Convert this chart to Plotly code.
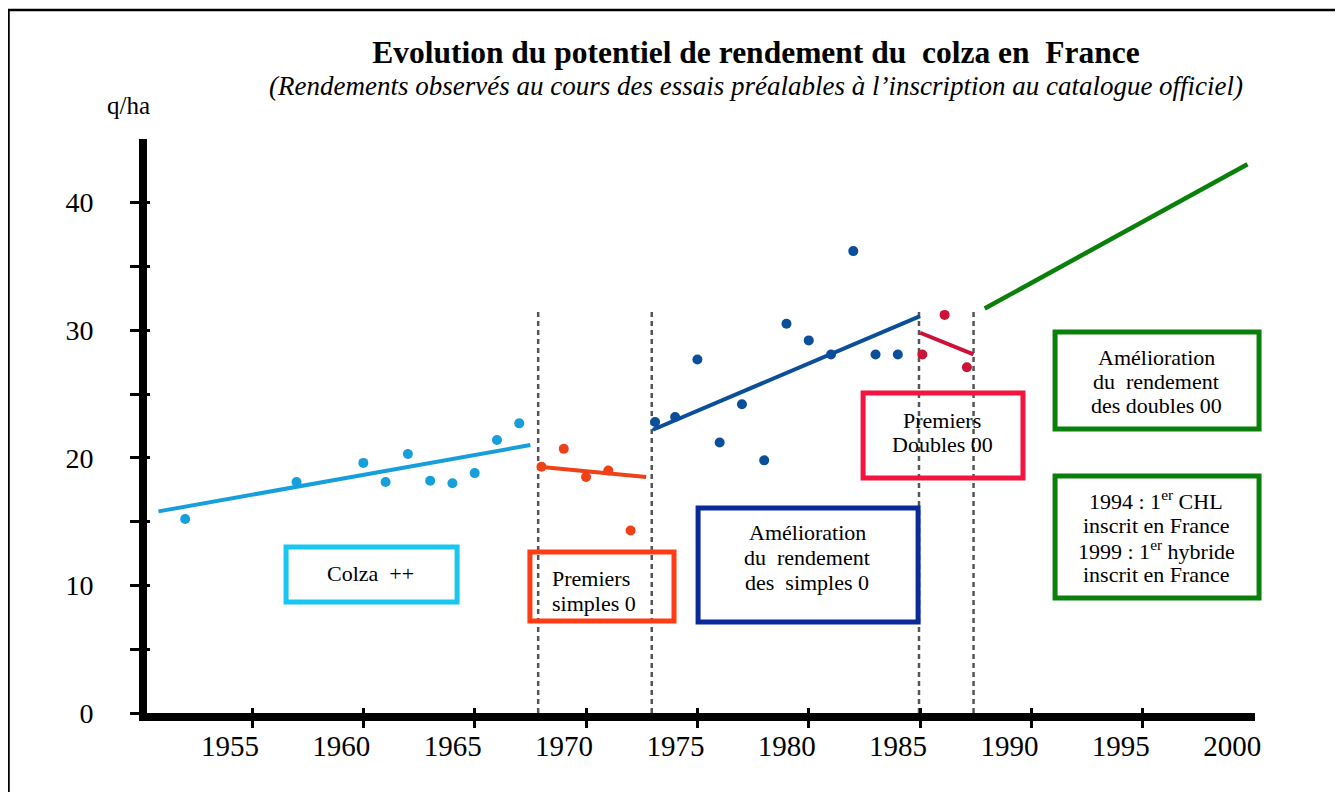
import plotly.graph_objects as go

# ---------------- data ----------------
years_colza = [1952, 1957, 1960, 1961, 1962, 1963, 1964, 1965, 1966, 1967]
yield_colza = [15.2, 18.1, 19.6, 18.1, 20.3, 18.2, 18.0, 18.8, 21.4, 22.7]
trend_colza_x = [1950.8, 1967.5]
trend_colza_y = [15.8, 21.0]

years_s0 = [1968, 1969, 1970, 1971, 1972]
yield_s0 = [19.3, 20.7, 18.5, 19.0, 14.3]
trend_s0_x = [1967.9, 1972.7]
trend_s0_y = [19.3, 18.5]

years_s0b = [1973.1, 1974, 1975, 1976, 1977, 1978, 1979, 1980, 1981, 1982, 1983, 1984]
yield_s0b = [22.8, 23.2, 27.7, 21.2, 24.2, 19.8, 30.5, 29.2, 28.1, 36.2, 28.1, 28.1]
trend_s0b_x = [1973.0, 1985.0]
trend_s0b_y = [22.2, 31.1]

years_00 = [1985.1, 1986.1, 1987.1]
yield_00 = [28.1, 31.2, 27.1]
trend_00_x = [1985.0, 1987.4]
trend_00_y = [29.8, 28.1]

trend_00b_x = [1987.9, 1999.7]
trend_00b_y = [31.7, 43.0]

era_bounds = [1967.85, 1972.95, 1984.95, 1987.4]
era_top = 31.7

x_tickvals = [1955, 1960, 1965, 1970, 1975, 1980, 1985, 1990, 1995, 2000]
x_ticktext = ["1955", "1960", "1965", "1970", "1975", "1980", "1985", "1990", "1995", "2000"]
x_tickmarks = [1955, 1960, 1965, 1970, 1975, 1980, 1985, 1990, 1995]
y_tickvals = [0, 5, 10, 15, 20, 25, 30, 35, 40]
y_ticktext = ["0", "", "10", "", "20", "", "30", "", "40"]

# annotation boxes: extent in data units, colour, text lines (x, y of each line)
boxes = [
    dict(x=(1956.53, 1964.21), y=(8.70, 13.01), color="#19C6F0", anchor="center",
         tx=1960.3, lines=[("Colza  ++", 10.97)]),
    dict(x=(1967.48, 1973.95), y=(7.21, 12.62), color="#FF3C14", anchor="left",
         tx=1968.4, lines=[("Premiers", 10.58), ("simples 0", 8.62)]),
    dict(x=(1975.03, 1984.91), y=(7.13, 16.07), color="#0A2A9C", anchor="center",
         tx=1979.94, lines=[("Amélioration", 14.16), ("du  rendement", 12.20),
                            ("des  simples 0", 10.24)]),
    dict(x=(1982.44, 1989.62), y=(18.42, 25.08), color="#F5143F", anchor="center",
         tx=1986.0, lines=[("Premiers", 22.96), ("Doubles 00", 21.08)]),
    dict(x=(1991.06, 2000.22), y=(22.26, 29.86), color="#0A800A", anchor="center",
         tx=1995.6, lines=[("Amélioration", 27.88), ("du  rendement", 25.96),
                           ("des doubles 00", 24.08)]),
    dict(x=(1991.06, 2000.22), y=(9.01, 18.57), color="#0A800A", anchor="center",
         tx=1995.6, lines=[("1994 : 1<sup>er</sup> CHL", 16.69), ("inscrit en France", 14.73),
                           ("1999 : 1<sup>er</sup> hybride", 12.77), ("inscrit en France", 10.89)]),
]

# ---------------- layout geometry ----------------
OFF = 8                      # page body margin
W, H = 1343 - OFF, 792 - OFF
PX_PER_YEAR = 22.27
PX_PER_UNIT = 12.76
ML, MR, MT, MB = 139, 88, 131, 79
XR = [1955 - (252 - (ML + OFF)) / PX_PER_YEAR, 1955 + ((W - MR + OFF) - 252) / PX_PER_YEAR]
YR = [0.0, (713 - (MT + OFF)) / PX_PER_UNIT]
FONT = "Liberation Serif"
PW, PH = W - ML - MR, H - MT - MB


def px(xv):
    return (xv - XR[0]) / (XR[1] - XR[0])


def py(yv):
    return (yv - YR[0]) / (YR[1] - YR[0])


def ppx(page_x):
    return (page_x - OFF - ML) / PW


def ppy(page_y):
    return (H - MB - (page_y - OFF)) / PH


fig = go.Figure()

# dashed era boundaries
bx, by = [], []
for b in era_bounds:
    bx += [b, b, None]
    by += [0, era_top, None]
fig.add_trace(go.Scatter(x=bx, y=by, mode="lines",
                         line=dict(color="#555555", width=2.5, dash="5px,4px"),
                         hoverinfo="skip", showlegend=False))

series = [
    (years_colza, yield_colza, trend_colza_x, trend_colza_y, "#169FDB"),
    (years_s0, yield_s0, trend_s0_x, trend_s0_y, "#EE4117"),
    (years_s0b, yield_s0b, trend_s0b_x, trend_s0b_y, "#0B4E9A"),
    (years_00, yield_00, trend_00_x, trend_00_y, "#CC1238"),
]
for xs, ys, tx, ty, c in series:
    fig.add_trace(go.Scatter(x=tx, y=ty, mode="lines", line=dict(color=c, width=4),
                             showlegend=False))
    fig.add_trace(go.Scatter(x=xs, y=ys, mode="markers", marker=dict(color=c, size=10),
                             showlegend=False))
fig.add_trace(go.Scatter(x=trend_00b_x, y=trend_00b_y, mode="lines",
                         line=dict(color="#0A800A", width=4.5), showlegend=False))

# invisible traces carrying the overlay axes (tick marks crossing the axis lines)
fig.add_trace(go.Scatter(x=[XR[0]], y=[YR[0]], xaxis="x2", yaxis="y2", mode="markers",
                         marker=dict(opacity=0), hoverinfo="skip", showlegend=False))
fig.add_trace(go.Scatter(x=[XR[0]], y=[YR[0]], xaxis="x3", yaxis="y", mode="markers",
                         marker=dict(opacity=0), hoverinfo="skip", showlegend=False))

shapes = []
annotations = []
for bxd in boxes:
    shapes.append(dict(type="rect", xref="paper", yref="paper",
                       x0=px(bxd["x"][0]), x1=px(bxd["x"][1]),
                       y0=py(bxd["y"][0]), y1=py(bxd["y"][1]),
                       line=dict(color=bxd["color"], width=5), layer="above"))
    for txt, ly in bxd["lines"]:
        annotations.append(dict(x=bxd["tx"], y=ly, xref="x", yref="y", text=txt,
                                showarrow=False, xanchor=bxd["anchor"], yanchor="middle",
                                font=dict(family=FONT, size=22, color="black")))

# outer frame
shapes.append(dict(type="rect", xref="paper", yref="paper",
                   x0=ppx(8.5), x1=ppx(1340), y0=ppy(805), y1=ppy(10),
                   line=dict(color="black", width=2.5), layer="below"))

annotations.append(dict(xref="paper", yref="paper", x=ppx(756), y=ppy(86),
                        text="<i>(Rendements observés au cours des essais préalables à l’inscription au catalogue officiel)</i>",
                        showarrow=False, xanchor="center", yanchor="middle",
                        font=dict(family=FONT, size=27, color="black")))
annotations.append(dict(xref="paper", yref="paper", x=ppx(128), y=ppy(106),
                        text="q/ha", showarrow=False, xanchor="center", yanchor="middle",
                        font=dict(family=FONT, size=25, color="black")))

fig.update_layout(
    width=W, height=H,
    margin=dict(l=ML, r=MR, t=MT, b=MB),
    paper_bgcolor="white", plot_bgcolor="white",
    title=dict(text="<b>Evolution du potentiel de rendement du  colza en  France</b>",
               x=(756 - OFF) / W, xanchor="center", y=1 - (52 - OFF) / H, yanchor="middle",
               font=dict(family=FONT, size=31.5, color="black")),
    xaxis=dict(range=XR, showgrid=False, zeroline=False, showline=True, linecolor="black",
               linewidth=8, tickmode="array", tickvals=x_tickvals, ticktext=x_ticktext,
               ticks="outside", ticklen=7, tickwidth=3, tickcolor="rgba(0,0,0,0)",
               ticklabelshift=-22, ticklabelstandoff=-7,
               tickfont=dict(family=FONT, size=29, color="black")),
    xaxis3=dict(range=XR, overlaying="x", anchor="y", side="bottom", showgrid=False,
                zeroline=False, showline=True, linecolor="black", linewidth=8,
                tickmode="array", tickvals=x_tickmarks,
                ticks="outside", ticklen=7, tickwidth=3, tickcolor="black",
                showticklabels=False),
    yaxis=dict(range=YR, showgrid=False, zeroline=False, showline=True, linecolor="black",
               linewidth=8, tickmode="array", tickvals=y_tickvals, ticktext=y_ticktext,
               ticks="outside", ticklen=9, tickwidth=3, tickcolor="black",
               ticklabelstandoff=31,
               tickfont=dict(family=FONT, size=28, color="black")),
    xaxis2=dict(range=XR, overlaying="x", anchor="y", side="bottom", showgrid=False,
                zeroline=False, showline=False, tickmode="array", tickvals=x_tickmarks,
                ticks="inside", ticklen=5, tickwidth=3, tickcolor="black",
                showticklabels=False),
    yaxis2=dict(range=YR, overlaying="y", anchor="x", side="left", showgrid=False,
                zeroline=False, showline=False, tickmode="array", tickvals=y_tickvals,
                ticks="inside", ticklen=3, tickwidth=3, tickcolor="black",
                showticklabels=False),
    shapes=shapes,
    annotations=annotations,
    showlegend=False,
)

fig.write_html("out.html")
